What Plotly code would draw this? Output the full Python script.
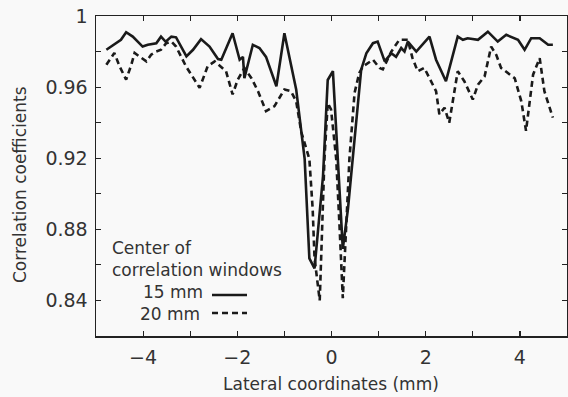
import plotly.graph_objects as go

# Solid line: 15 mm correlation window centre
x15 = [-4.78, -4.57, -4.47, -4.36, -4.22, -4.01, -3.90, -3.72, -3.62, -3.52, -3.40, -3.30,
       -3.23, -3.08, -2.94, -2.77, -2.59, -2.41, -2.34, -2.10, -1.95, -1.88, -1.85, -1.67,
       -1.53, -1.39, -1.17, -1.00, -0.75, -0.57, -0.47, -0.36, -0.18, -0.08, 0.03, 0.17,
       0.24, 0.35, 0.49, 0.63, 0.74, 0.88, 0.98, 1.13, 1.27, 1.37, 1.48, 1.55, 1.62, 1.80,
       2.08, 2.22, 2.43, 2.54, 2.68, 2.79, 2.89, 3.11, 3.32, 3.53, 3.71, 3.96, 4.10, 4.24,
       4.42, 4.60, 4.70]
y15 = [0.981, 0.9847, 0.9866, 0.9909, 0.9884, 0.9828, 0.9838, 0.9847, 0.9884, 0.9855, 0.9884, 0.988,
       0.9847, 0.9773, 0.981, 0.987, 0.9828, 0.9758, 0.9754, 0.9903, 0.9754, 0.977, 0.965, 0.9838,
       0.982, 0.977, 0.9605, 0.9903, 0.9587, 0.9196, 0.8637, 0.858, 0.910, 0.964, 0.969, 0.901,
       0.869, 0.8916, 0.929, 0.9698, 0.979, 0.9847, 0.9856, 0.9745, 0.979, 0.977, 0.982, 0.980, 0.9856, 0.980,
       0.9884, 0.9754, 0.9633, 0.9745, 0.9884, 0.9866, 0.9875, 0.9866, 0.9912, 0.9856, 0.9894, 0.9866, 0.981, 0.9875,
       0.9875, 0.9838, 0.9838]

# Dashed line: 20 mm correlation window centre
x20 = [-4.78, -4.61, -4.50, -4.36, -4.25, -4.18, -4.08, -3.93, -3.83, -3.72, -3.62, -3.51,
       -3.40, -3.30, -3.09, -2.80, -2.63, -2.48, -2.24, -2.10, -1.99, -1.85, -1.70, -1.56,
       -1.39, -1.21, -1.00, -0.86, -0.75, -0.64, -0.47, -0.40, -0.36, -0.25, -0.15, -0.08,
       -0.01, 0.10, 0.17, 0.24, 0.38, 0.49, 0.59, 0.67, 0.88, 1.02, 1.09, 1.27, 1.44, 1.62,
       1.72, 1.83, 1.97, 2.08, 2.22, 2.29, 2.40, 2.50, 2.68, 2.82, 3.00, 3.11, 3.25, 3.39,
       3.50, 3.60, 3.78, 3.89, 4.03, 4.13, 4.28, 4.42, 4.52, 4.70]
y20 = [0.9726, 0.9792, 0.9717, 0.9642, 0.9726, 0.9792, 0.9773, 0.9745, 0.9782, 0.980, 0.981, 0.9847,
       0.9856, 0.9828, 0.9717, 0.9596, 0.9717, 0.9745, 0.969, 0.9559, 0.9642, 0.9708, 0.965, 0.9577,
       0.9465, 0.9493, 0.9587, 0.9577, 0.952, 0.9346, 0.9196, 0.8916, 0.8637, 0.840, 0.9196, 0.951,
       0.9475, 0.9196, 0.882, 0.8413, 0.9196, 0.9568, 0.968, 0.9717, 0.9754, 0.9708, 0.970, 0.980, 0.9866, 0.9866,
       0.9763, 0.9689, 0.9708, 0.965, 0.9577, 0.9447, 0.9484, 0.940, 0.9689, 0.9633, 0.953, 0.9614, 0.966, 0.9828,
       0.978, 0.9708, 0.967, 0.965, 0.952, 0.9354, 0.967, 0.9763, 0.9577, 0.9428]

x_tickvals = [-4, -3, -2, -1, 0, 1, 2, 3, 4]
x_ticktext = ["−4", "", "−2", "", "0", "", "2", "", "4"]
y_tickvals = [0.82, 0.84, 0.86, 0.88, 0.90, 0.92, 0.94, 0.96, 0.98, 1.0]
y_ticktext = ["", "0.84", "", "0.88", "", "0.92", "", "0.96", "", "1"]

legend_title = ["Center of", "correlation windows"]
legend_names = ["15 mm", "20 mm"]
x_title = "Lateral coordinates (mm)"
y_title = "Correlation coefficients"

FONT = "DejaVu Sans"
INK = "#1a1a1a"
TXT = "#333"

fig = go.Figure()
fig.add_trace(go.Scatter(x=x15, y=y15, mode="lines", name=legend_names[0],
                         line=dict(color=INK, width=2.6), showlegend=False))
fig.add_trace(go.Scatter(x=x20, y=y20, mode="lines", name=legend_names[1],
                         line=dict(color=INK, width=2.6, dash="6px,4px"), showlegend=False))

W, H = 568, 397
L, R, T, B = 96, 1, 16, 61
pw, ph = W - L - R, H - T - B

def px(xp):
    return (xp - L) / pw

def py(yp):
    return (H - B - yp) / ph

annotations = [
    dict(text=legend_title[0], x=px(110), y=py(248)),
    dict(text=legend_title[1], x=px(110), y=py(270)),
    dict(text=legend_names[0], x=px(141), y=py(292)),
    dict(text=legend_names[1], x=px(138), y=py(314)),
]
for a in annotations:
    a.update(xref="paper", yref="paper", xanchor="left", yanchor="middle",
             showarrow=False, font=dict(family=FONT, size=17, color=TXT))

annotations.append(dict(text=x_title, xref="paper", yref="paper", x=px(331), y=py(384),
                        xanchor="center", yanchor="middle", showarrow=False,
                        font=dict(family=FONT, size=17, color=TXT)))
annotations.append(dict(text=y_title, xref="paper", yref="paper", x=px(20), y=py(185),
                        xanchor="center", yanchor="middle", showarrow=False, textangle=-90,
                        font=dict(family=FONT, size=17, color=TXT)))

shapes = [
    dict(type="line", xref="paper", yref="paper", x0=px(212), x1=px(247), y0=py(295), y1=py(295),
         line=dict(color=INK, width=2.6)),
    dict(type="line", xref="paper", yref="paper", x0=px(212), x1=px(247), y0=py(313), y1=py(313),
         line=dict(color=INK, width=2.6, dash="6px,4px")),
]

axis_common = dict(showgrid=False, zeroline=False, showline=True, linecolor="#222", linewidth=1.5,
                   mirror="allticks", ticks="inside", ticklen=5, tickwidth=1.2, tickcolor="#222",
                   automargin=False,
                   tickfont=dict(family=FONT, size=19, color=TXT))

fig.update_layout(
    width=W, height=H,
    margin=dict(l=L, r=R, t=T, b=B),
    paper_bgcolor="#f9f9f9", plot_bgcolor="#f9f9f9",
    xaxis=dict(range=[-5, 5], tickvals=x_tickvals, ticktext=x_ticktext,
               ticklabelstandoff=4, **axis_common),
    yaxis=dict(range=[0.82, 1.0], tickvals=y_tickvals, ticktext=y_ticktext,
               ticklabelstandoff=3, **axis_common),
    annotations=annotations, shapes=shapes,
)

fig.write_html("out.html",
               config={"displayModeBar": False, "staticPlot": True},
               post_script="document.body.style.margin='0';document.body.style.padding='0';"
                           "document.body.style.overflow='hidden';")
